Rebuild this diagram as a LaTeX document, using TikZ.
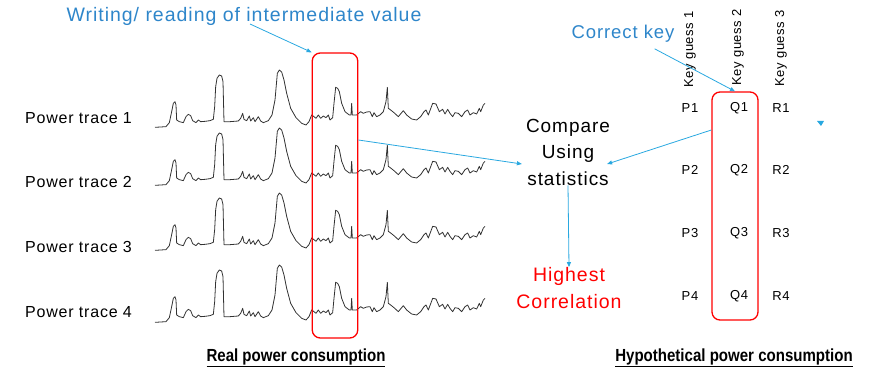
\documentclass[tikz,border=0pt]{standalone}
\usepackage{fontspec}
\setmainfont{Liberation Sans}[LetterSpace=5]
\newfontfamily\narrowfont{Liberation Sans}[FakeStretch=0.86]
\usetikzlibrary{arrows.meta,calc}
\definecolor{txtblue}{RGB}{46,134,202}
\definecolor{arrblue}{RGB}{41,168,224}
\definecolor{boxred}{RGB}{255,0,0}
\definecolor{tracegray}{RGB}{50,50,50}
\newcommand\powertrace[1]{%
  \begin{scope}[shift={(150,#1)},scale=1/3]
  \draw[tracestyle] plot coordinates {(15,232) (48,230) (58,218) (65,185) (70,160) (75,155) (78,165) (80,210) (88,215) (100,218) (108,200) (115,193) (122,197) (128,212) (138,218) (145,210) (152,215) (165,214) (180,212) (190,208) (194,170) (197,110) (201,85) (208,75) (215,78) (219,95) (222,215) (240,215) (265,213) (272,205) (278,190) (282,208) (290,212) (298,198) (302,213) (310,203) (315,215) (325,200) (332,213) (340,218) (355,212) (366,195) (375,150) (382,70) (388,60) (395,66) (402,90) (410,130) (422,175) (438,203) (455,220) (468,225) (477,215) (485,195) (492,200) (498,205) (505,195) (512,205) (520,198) (528,203) (535,195) (540,210) (548,203) (552,160) (557,112) (563,115) (568,125) (575,160) (585,185) (598,195) (603,195) (605,160) (607,195) (620,195) (632,185) (640,190) (650,186) (660,185) (667,200) (672,188) (680,200) (690,195) (700,185) (708,155) (712,112) (715,175) (722,180) (732,188) (745,200) (760,182) (770,195) (785,207) (800,210) (812,200) (822,185) (828,180) (835,195) (848,160) (858,162) (868,185) (878,178) (885,192) (893,178) (900,190) (908,200) (915,188) (925,190) (935,200) (945,185) (953,180) (960,195) (970,188) (980,192) (988,175) (992,185) (1000,165) (1005,160)};
  \end{scope}}
\begin{document}
\begin{tikzpicture}[x=1pt,y=-1pt,
  tracestyle/.style={draw=tracegray,line width=0.8pt,line join=round},
  conn/.style={draw=arrblue,line width=0.8pt,-{Triangle[length=5pt,width=4pt]}},
  redbox/.style={draw=boxred,line width=1.3pt,rounded corners=8pt,inner sep=0pt},
  lbl/.style={font=\fontsize{16}{18}\selectfont,inner sep=0pt,anchor=west},
  cell/.style={font=\fontsize{13}{15}\selectfont,inner sep=0pt},
  keyg/.style={font=\fontsize{13}{15}\selectfont,inner sep=0pt,rotate=90,anchor=west},
  bluetxt/.style={font=\fontsize{19.5}{22}\selectfont,text=txtblue,inner sep=0pt},
  midtxt/.style={font=\fontsize{19}{26.5}\selectfont,align=center,inner sep=0pt},
  caption/.style={font=\narrowfont\bfseries\fontsize{17.5}{19}\selectfont,inner sep=0pt}
]
\useasboundingbox (0,0) rectangle (872,374);

% traces
\powertrace{50}
\powertrace{108}
\powertrace{173}
\powertrace{245}

\node[lbl] (t1) at (25,118) {Power trace 1};
\node[lbl] (t2) at (25,182) {Power trace 2};
\node[lbl] (t3) at (25,247) {Power trace 3};
\node[lbl] (t4) at (25,312) {Power trace 4};

% red box over traces
\node[redbox,minimum width=45.5pt,minimum height=285pt] (box1) at (335,195.5) {};

% top label
\node[bluetxt] (writing) at (244,16) {Writing/ reading of intermediate value};
\coordinate (w1) at (250,24);
\draw[conn] (w1) -- (box1.north west);

% middle texts
\node[midtxt] (compare) at (568,152) {Compare\\Using\\statistics};
\node[midtxt,text=boxred,font=\fontsize{19.5}{27}\selectfont] (highest) at (569,288) {Highest\\Correlation};

% key guess table
\node[keyg] (k1) at (690,88) {Key guess 1};
\node[keyg] (k2) at (738,86) {Key guess 2};
\node[keyg] (k3) at (781,87) {Key guess 3};
\foreach \r/\y in {1/108,2/170,3/233,4/296}{
  \node[cell] (p\r) at (690,\y) {P\r};
  \node[cell] (q\r) at (739,\y) {Q\r};
  \node[cell] (r\r) at (781,\y) {R\r};
}
\node[redbox,minimum width=46pt,minimum height=228pt] (qbox) at (735,206) {};

\node[bluetxt,font=\fontsize{18.5}{22}\selectfont] (correct) at (623,34) {Correct key};

% connectors
\coordinate (c1) at ($(correct.south east)+(-20,6)$);
\draw[conn] (c1) -- (qbox.north);
\draw[conn] (box1.east |- 0,140) -- ($(compare.west)+(-4,12)$);
\draw[conn] (qbox.west |- 0,130) -- ($(compare.east)+(-3,12)$);
\draw[conn] (compare.south) -- (highest.north);

% stray small arrowhead
\fill[arrblue] (817,121) -- (824,121) -- (821,126) -- cycle;

% captions
\node[caption] (real) at (296,358) {\underline{Real power consumption}};
\node[caption] (hypo) at (734,358) {\underline{Hypothetical power consumption}};
\end{tikzpicture}
\end{document}
